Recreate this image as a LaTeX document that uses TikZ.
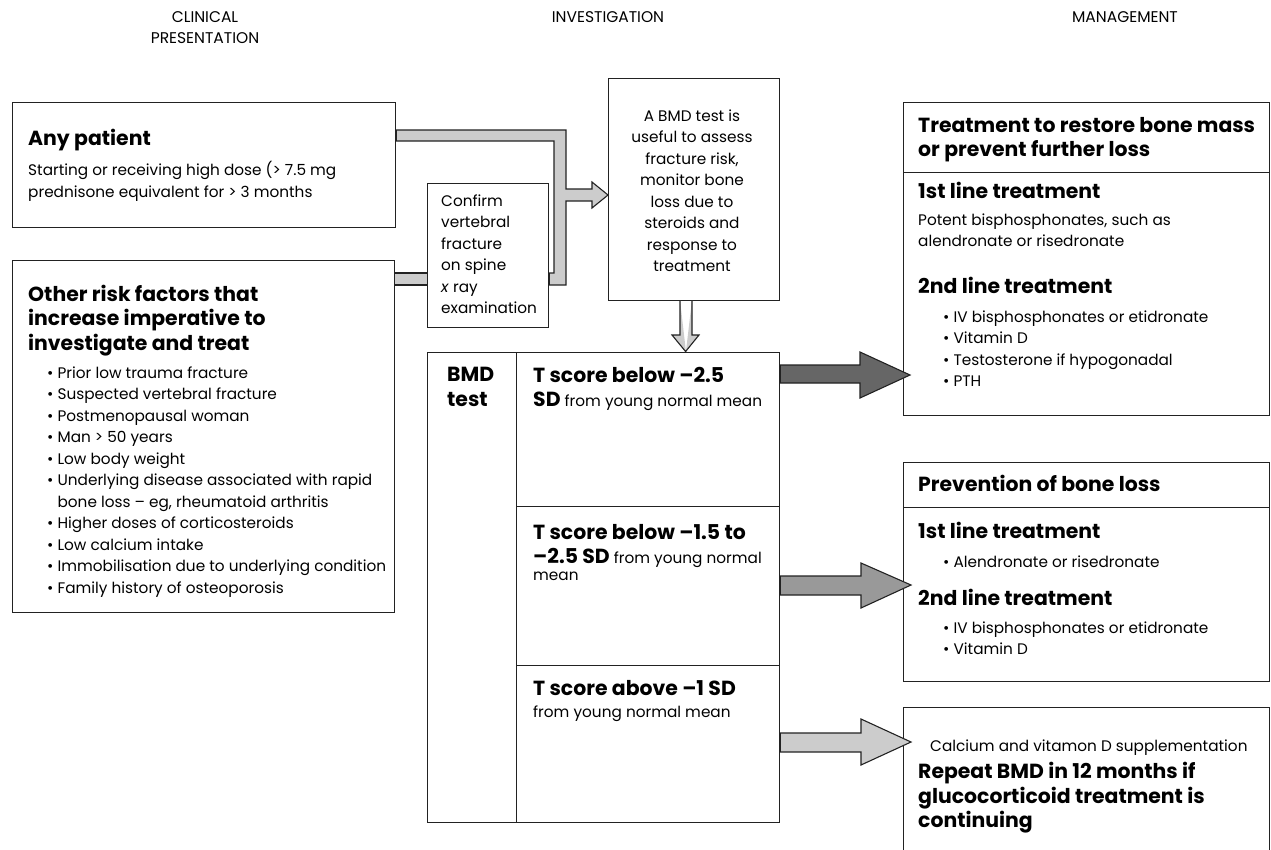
\documentclass[tikz,border=0pt]{standalone}
\usepackage{fontspec}
\setmainfont{Poppins}
\definecolor{lightg}{HTML}{CCCCCC}
\definecolor{midg}{HTML}{999999}
\definecolor{darkg}{HTML}{666666}
\definecolor{edge}{HTML}{222222}
\tikzset{
  box/.style={draw=edge, line width=1.3pt, fill=white, inner sep=0pt, anchor=north west},
  lbl/.style={anchor=north west, inner sep=0pt, align=left, text=black},
  hdr/.style={anchor=north, inner sep=0pt, align=center, font=\fontsize{15.5}{21}\selectfont},
  bodyf/.style={font=\fontsize{15.3}{21.5}\selectfont},
  ttlf/.style={font=\bfseries\fontsize{20.4}{24.5}\selectfont},
  blk/.style={draw=edge, line width=1.1pt, line join=miter},
}
\begin{document}
\begin{tikzpicture}[x=1pt,y=-1pt]
\useasboundingbox (0,0) rectangle (1271,849);
\clip (0,0) rectangle (1271,849);
% headers
\node[hdr] (h1) at (205,11) {CLINICAL\\PRESENTATION};
\node[hdr] (h2) at (608,11) {INVESTIGATION};
\node[hdr] (h3) at (1125,11) {MANAGEMENT};
% boxes
\node[box, minimum width=383pt, minimum height=125pt] (anyp) at (12,102) {};
\node[box, minimum width=382pt, minimum height=352pt] (risk) at (12,260) {};
\node[box, minimum width=121pt, minimum height=144pt] (conf) at (427,183) {};
\node[box, minimum width=171pt, minimum height=222pt] (inv) at (608,78) {};
\node[box, minimum width=89pt, minimum height=470pt] (bmd) at (427,352) {};
\node[box, minimum width=263pt, minimum height=154pt] (r1) at (516,352) {};
\node[box, minimum width=263pt, minimum height=159pt] (r2) at (516,506) {};
\node[box, minimum width=263pt, minimum height=157pt] (r3) at (516,665) {};
\node[box, minimum width=366pt, minimum height=70pt] (trh) at (903,102) {};
\node[box, minimum width=366pt, minimum height=243pt] (trb) at (903,172) {};
\node[box, minimum width=366pt, minimum height=45pt] (pvh) at (903,462) {};
\node[box, minimum width=366pt, minimum height=174pt] (pvb) at (903,507) {};
\node[box, minimum width=366pt, minimum height=170pt] (rep) at (903,707) {};
% texts
\node[lbl, ttlf] (t1) at (28,129) {Any patient};
\node[lbl, bodyf] (t2) at (28,161.5) {Starting or receiving high dose (> 7.5 mg\\prednisone equivalent for > 3 months};
\node[lbl, ttlf] (t3) at (28,284.5) {Other risk factors that\\increase imperative to\\investigate and treat};
\node[lbl, bodyf] (t4) at (47,366.5) {\textbullet\ Prior low trauma fracture\\
\textbullet\ Suspected vertebral fracture\\
\textbullet\ Postmenopausal woman\\
\textbullet\ Man > 50 years\\
\textbullet\ Low body weight\\
\textbullet\ Underlying disease associated with rapid\\
\phantom{\textbullet\ }bone loss – eg, rheumatoid arthritis\\
\textbullet\ Higher doses of corticosteroids\\
\textbullet\ Low calcium intake\\
\textbullet\ Immobilisation due to underlying condition\\
\textbullet\ Family history of osteoporosis};
\node[lbl, bodyf] (t5) at (441,194.5) {Confirm\\vertebral\\fracture\\on spine\\\textit{x} ray\\examination};
\node[anchor=north, inner sep=0pt, align=center, bodyf] (t6) at (692,109.5) {A BMD test is\\useful to assess\\fracture risk,\\monitor bone\\loss due to\\steroids and\\response to\\treatment};
\node[lbl, ttlf] (t7) at (447,367) {BMD\\test};
\node[lbl, ttlf] (t8) at (533,367) {T score below –2.5};
\node[lbl, bodyf] (t9) at (533,392) {\textbf{\fontsize{20.4}{24}\selectfont SD} from young normal mean};
\node[lbl, ttlf] (t10) at (533,524) {T score below –1.5 to};
\node[lbl, bodyf] (t11) at (533,548) {\textbf{\fontsize{20.4}{24}\selectfont –2.5 SD} from young normal};
\node[lbl, bodyf] (t12) at (533,571.5) {mean};
\node[lbl, ttlf] (t13) at (533,680) {T score above –1 SD};
\node[lbl, bodyf] (t14) at (533,705.5) {from young normal mean};
\node[lbl, ttlf] (t15) at (918,117) {Treatment to restore bone mass\\or prevent further loss};
\node[lbl, ttlf] (t16) at (918,182) {1st line treatment};
\node[lbl, bodyf] (t17) at (918,213.5) {Potent bisphosphonates, such as\\alendronate or risedronate};
\node[lbl, ttlf] (t18) at (918,277) {2nd line treatment};
\node[lbl, bodyf] (t19) at (943,310.5) {\textbullet\ IV bisphosphonates or etidronate\\
\textbullet\ Vitamin D\\
\textbullet\ Testosterone if hypogonadal\\
\textbullet\ PTH};
\node[lbl, ttlf] (t20) at (918,475) {Prevention of bone loss};
\node[lbl, ttlf] (t21) at (918,522) {1st line treatment};
\node[lbl, bodyf] (t22) at (943,555.5) {\textbullet\ Alendronate or risedronate};
\node[lbl, ttlf] (t23) at (918,589) {2nd line treatment};
\node[lbl, bodyf] (t24) at (943,621.5) {\textbullet\ IV bisphosphonates or etidronate\\
\textbullet\ Vitamin D};
\node[lbl, bodyf] (t25) at (930,739.5) {Calcium and vitamon D supplementation};
\node[lbl, ttlf] (t26) at (918,762) {Repeat BMD in 12 months if\\glucocorticoid treatment is\\continuing};
% feed arrow from clinical boxes to investigation
\draw[blk, fill=lightg] (anyp.east |- 0,130) -- (566,130) -- (566,189) -- (592,189) -- (592,182)
  -- (inv.west |- 0,195) -- (592,208) -- (592,201) -- (566,201) -- (566,285)
  -- (conf.east |- 0,285) -- (conf.east |- 0,273) -- (554,273) -- (554,141) -- (anyp.east |- 0,141) -- cycle;
\fill[lightg] (risk.east |- 0,273) rectangle (conf.west |- 0,285);
\draw[blk] (risk.east |- 0,273) -- (conf.west |- 0,273) (risk.east |- 0,285) -- (conf.west |- 0,285);
% down arrow
\draw[blk, fill=lightg] (680,300) -- (680,335) -- (672,335) -- (r1.north -| 686,0) ++(0,-1) -- (699,335) -- (692,335) -- (692,300);
% block arrows to management
\draw[blk, fill=darkg] (r1.east |- 0,365) -- (860,365) -- (860,352) -- ([xshift=7pt]trb.west |- 0,375) -- (860,398) -- (860,383) -- (r1.east |- 0,383) -- cycle;
\draw[blk, fill=midg] (r2.east |- 0,576) -- (861,576) -- (861,563) -- ([xshift=8pt]pvb.west |- 0,585) -- (861,608) -- (861,595) -- (r2.east |- 0,595) -- cycle;
\draw[blk, fill=lightg] (r3.east |- 0,733) -- (861,733) -- (861,719) -- ([xshift=8pt]rep.west |- 0,742) -- (861,765) -- (861,752) -- (r3.east |- 0,752) -- cycle;
\end{tikzpicture}
\end{document}
